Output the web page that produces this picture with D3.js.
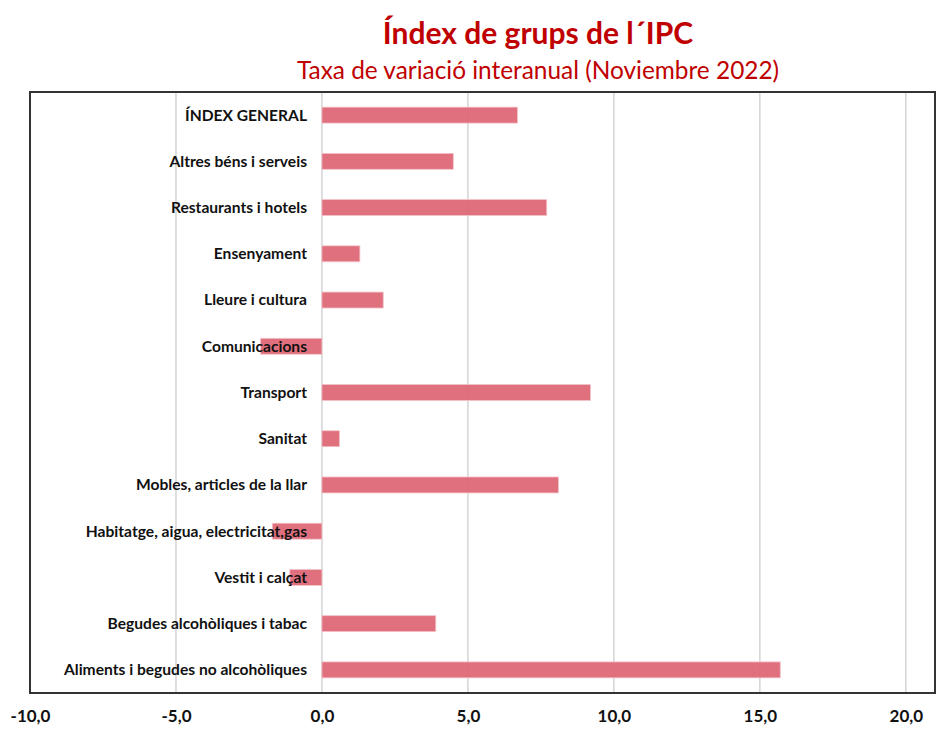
<!DOCTYPE html>
<html>
<head>
<meta charset="utf-8">
<script src="https://cdn.jsdelivr.net/npm/d3@7"></script>
<style>
  body { margin: 0; background: #fff; }
  svg { display: block; }
</style>
</head>
<body>
<svg id="chart" width="940" height="729"></svg>
<script>
const categories = [
  "ÍNDEX GENERAL",
  "Altres béns i serveis",
  "Restaurants i hotels",
  "Ensenyament",
  "Lleure i cultura",
  "Comunicacions",
  "Transport",
  "Sanitat",
  "Mobles, articles de la llar",
  "Habitatge, aigua, electricitat,gas",
  "Vestit i calçat",
  "Begudes alcohòliques i tabac",
  "Aliments i begudes no alcohòliques"
];
const values = [6.7, 4.5, 7.7, 1.3, 2.1, -2.1, 9.2, 0.6, 8.1, -1.7, -1.1, 3.9, 15.7];
const tickValues = [-10, -5, 0, 5, 10, 15, 20];
const titleText = "Índex de grups de l´IPC";
const subtitleText = "Taxa de variació interanual (Noviembre 2022)";

const svg = d3.select("#chart");
const plot = { left: 30, right: 935, top: 92, bottom: 693 };

const x = d3.scaleLinear().domain([-10, 21]).range([plot.left, plot.right]);
const y = d3.scaleBand().domain(categories).range([plot.top, plot.bottom]).paddingInner(0.655).paddingOuter(0.3275);

const fmt = v => d3.format(".1f")(v).replace(".", ",").replace("−", "-");

// Title
svg.append("text")
  .attr("x", 538).attr("y", 44)
  .attr("text-anchor", "middle")
  .attr("font-family", "Lato, 'Open Sans', sans-serif")
  .attr("font-weight", "bold")
  .attr("font-size", 30)
  .attr("fill", "#c00000")
  .text(titleText);
svg.append("text")
  .attr("x", 538).attr("y", 79)
  .attr("text-anchor", "middle")
  .attr("font-family", "Lato, 'Open Sans', sans-serif")
  .attr("font-size", 24.4)
  .attr("fill", "#c00000")
  .text(subtitleText);

// Gridlines
svg.append("g").selectAll("line")
  .data(tickValues)
  .join("line")
  .attr("x1", d => x(d)).attr("x2", d => x(d))
  .attr("y1", plot.top).attr("y2", plot.bottom)
  .attr("stroke", "#d4d4d4")
  .attr("stroke-width", 1.5);

// Bars
svg.append("g").selectAll("rect")
  .data(categories.map((c, i) => ({ c, v: values[i] })))
  .join("rect")
  .attr("x", d => x(Math.min(0, d.v)))
  .attr("width", d => Math.abs(x(d.v) - x(0)))
  .attr("y", d => y(d.c))
  .attr("height", y.bandwidth())
  .attr("fill", "#df6878")
  .attr("fill-opacity", 0.95)
  .attr("stroke", "#f2c4ca")
  .attr("stroke-width", 0.8);

// Category labels
svg.append("g").selectAll("text")
  .data(categories)
  .join("text")
  .attr("x", 307)
  .attr("y", d => y(d) + y.bandwidth() / 2)
  .attr("dy", "0.35em")
  .attr("text-anchor", "end")
  .attr("font-family", "Lato, 'Open Sans', sans-serif")
  .attr("font-weight", "bold")
  .attr("font-size", 15.6)
  .attr("fill", "#111")
  .text(d => d);

// Frame
svg.append("rect")
  .attr("x", plot.left).attr("y", plot.top)
  .attr("width", plot.right - plot.left).attr("height", plot.bottom - plot.top)
  .attr("fill", "none")
  .attr("stroke", "#333")
  .attr("stroke-width", 2);

// X axis tick labels
const xAxis = d3.axisBottom(x).tickValues(tickValues).tickFormat(fmt).tickSize(0).tickPadding(0);
const ax = svg.append("g").attr("transform", `translate(0, ${plot.bottom + 17})`).call(xAxis);
ax.select(".domain").remove();
ax.selectAll("text")
  .attr("font-family", "Lato, 'Open Sans', sans-serif")
  .attr("font-weight", "bold")
  .attr("font-size", 17)
  .attr("fill", "#111");
</script>
</body>
</html>
